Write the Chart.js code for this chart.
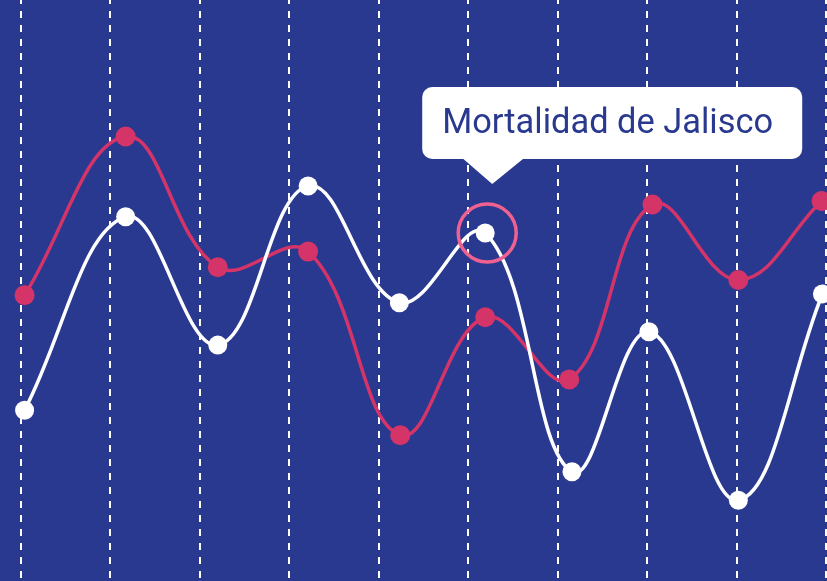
<!DOCTYPE html>
<html>
<head>
<meta charset="utf-8">
<script src="https://cdn.jsdelivr.net/npm/chart.js@4"></script>
<style>
  html, body { margin: 0; padding: 0; background: #29398f; }
  #wrap { width: 827px; height: 581px; }
</style>
</head>
<body>
<div id="wrap"><canvas id="grafica"></canvas></div>
<script>
// posiciones horizontales de cada punto (en unidades de la rejilla)
const xBlanca = [0.04, 1.17, 2.20, 3.21, 4.23, 5.19, 6.16, 7.02, 8.02, 8.96];
const xRoja   = [0.04, 1.17, 2.20, 3.21, 4.24, 5.19, 6.13, 7.06, 8.02, 8.95];
const serieBlanca = [29.4, 62.7, 40.6, 68.0, 47.9, 59.9, 18.8, 42.9, 13.9, 49.4];
const serieRoja   = [49.2, 76.5, 54.0, 56.7, 25.1, 45.4, 34.7, 64.8, 51.8, 65.4];
const etiqueta = 'Mortalidad de Jalisco';
const indiceActivo = 5;

const fondo = '#29398f';
const rojo  = '#d43468';

const globo = {
    id: 'globo',
    afterDatasetsDraw(chart) {
        const pt = chart.getDatasetMeta(0).data[indiceActivo];
        const ctx = chart.ctx;
        ctx.save();
        // aro alrededor del punto activo
        ctx.beginPath();
        ctx.arc(pt.x + 2, pt.y, 29, 0, Math.PI * 2);
        ctx.lineWidth = 3.5;
        ctx.strokeStyle = '#ef6190';
        ctx.stroke();

        // caja del tooltip
        const tipX = pt.x + 7, tipY = pt.y - 49;
        const x = tipX - 70, y = tipY - 97, w = 380, h = 72, r = 10;
        ctx.fillStyle = '#ffffff';
        ctx.beginPath();
        ctx.roundRect(x, y, w, h, r);
        ctx.fill();
        ctx.beginPath();
        ctx.moveTo(tipX - 30, y + h - 1);
        ctx.lineTo(tipX + 32, y + h - 1);
        ctx.lineTo(tipX, tipY);
        ctx.closePath();
        ctx.fill();

        ctx.fillStyle = fondo;
        ctx.font = '34.4px Roboto';
        ctx.textBaseline = 'alphabetic';
        ctx.fillText(etiqueta, x + 20, y + 46);
        ctx.restore();
    }
};

new Chart(document.getElementById('grafica'), {
    type: 'line',
    data: {
        datasets: [{
            label: etiqueta,
            data: xBlanca.map((x, i) => ({ x: x, y: serieBlanca[i] })),
            borderColor: '#ffffff',
            backgroundColor: '#ffffff',
            borderWidth: 3.5,
            tension: 0.4,
            pointRadius: 9.5,
            pointBorderWidth: 0,
            clip: false,
        }, {
            label: 'Serie roja',
            data: xRoja.map((x, i) => ({ x: x, y: serieRoja[i] })),
            borderColor: rojo,
            backgroundColor: rojo,
            borderWidth: 3.5,
            tension: 0.4,
            pointRadius: 10,
            pointBorderWidth: 0,
            clip: false,
        }]
    },
    plugins: [globo],
    options: {
        responsive: true,
        maintainAspectRatio: false,
        animation: false,
        layout: { autoPadding: false, padding: { left: 21, right: 1, top: 0, bottom: 0 } },
        plugins: {
            legend: { display: false },
            tooltip: { enabled: false },
        },
        scales: {
            x: {
                type: 'linear',
                min: 0,
                max: 9,
                ticks: { display: false, stepSize: 1, padding: 0 },
                border: { display: false, dash: [7, 7], dashOffset: 3 },
                grid: {
                    color: '#ffffff',
                    lineWidth: 2,
                    drawTicks: false,
                },
            },
            y: {
                display: false,
                min: 0,
                max: 100,
            }
        },
    }
});
</script>
</body>
</html>
